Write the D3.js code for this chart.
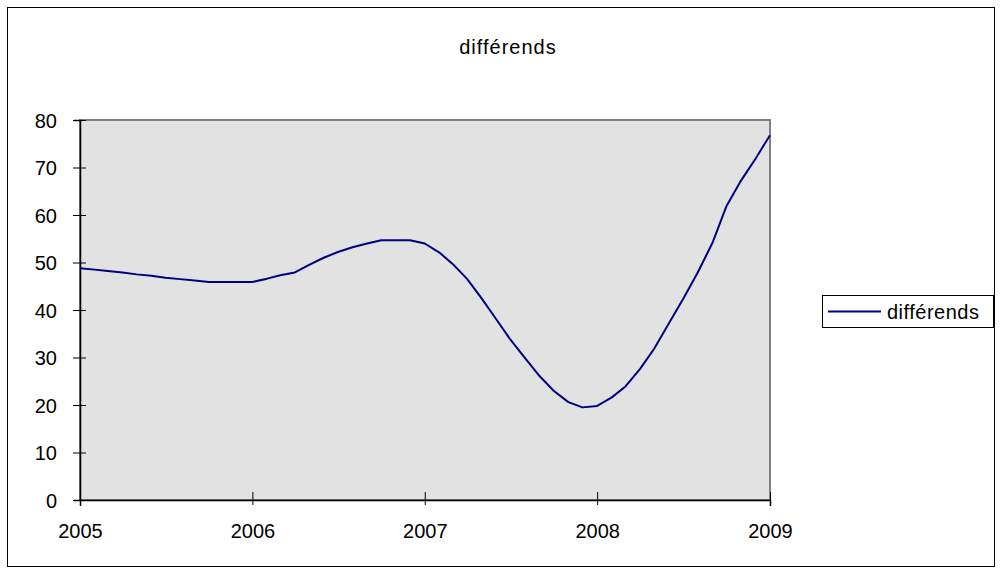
<!DOCTYPE html>
<html>
<head>
<meta charset="utf-8">
<script src="https://cdn.jsdelivr.net/npm/d3@7"></script>
<style>
  html, body { margin: 0; padding: 0; background: #ffffff; }
  svg { display: block; font-family: "Liberation Sans", Arial, sans-serif; }
</style>
</head>
<body>
<svg id="chart" width="1001" height="575"></svg>
<script>
// ---- data (monthly, Jan 2005 .. Jan 2009) ----
const seriesName = "différends";
const startYear = 2005;
const monthIndex = [0,1,2,3,4,5,6,7,8,9,10,11,12,13,14,15,16,17,18,19,20,21,22,23,24,
                    25,26,27,28,29,30,31,32,33,34,35,36,37,38,39,40,41,42,43,44,45,46,47,48];
const values = [48.8,48.5,48.2,47.9,47.5,47.2,46.8,46.5,46.2,45.9,45.9,45.9,45.9,46.6,47.3,47.9,
                49.5,51.0,52.2,53.2,54.0,54.7,54.7,54.7,54.0,52.1,49.7,46.5,42.5,38.1,33.8,29.9,
                26.1,23.0,20.6,19.5,19.8,21.6,23.9,27.6,31.9,37.2,42.3,47.9,54.1,61.9,67.3,71.8,76.8];
const yTicks = [0,10,20,30,40,50,60,70,80];
const xTickYears = [2005,2006,2007,2008,2009];

const data = monthIndex.map((m, i) => ({ date: new Date(startYear, m, 1), value: values[i] }));

const svg = d3.select("#chart");
const FS = 20;

// outer chart border
svg.append("rect").attr("x", 7.5).attr("y", 7.5).attr("width", 987).attr("height", 559)
  .attr("fill", "#fff").attr("stroke", "#000").attr("stroke-width", 1);

const plot = { left: 80, right: 770, top: 120, bottom: 500 };

const x = d3.scaleTime()
  .domain([new Date(2005, 0, 1), new Date(2009, 0, 1)])
  .range([plot.left, plot.right]);
const y = d3.scaleLinear().domain([0, 80]).range([plot.bottom, plot.top]);

// plot area
svg.append("rect")
  .attr("x", plot.left).attr("y", plot.top)
  .attr("width", plot.right - plot.left).attr("height", plot.bottom - plot.top)
  .attr("fill", "#e2e2e2").attr("stroke", "#808080").attr("stroke-width", 2);

// title
svg.append("text").attr("x", 508).attr("y", 54).attr("text-anchor", "middle")
  .attr("font-size", FS).attr("letter-spacing", 1).attr("fill", "#000").text(seriesName);

// y axis
const yAxis = d3.axisLeft(y).tickValues(yTicks).tickSize(6).tickPadding(17).tickFormat(d3.format("d"));
const gy = svg.append("g").attr("transform", `translate(${plot.left},0)`).call(yAxis);
gy.select(".domain").attr("stroke", "#000").attr("stroke-width", 1.5);
gy.selectAll(".tick line").attr("stroke", "#000").attr("x2", -7).attr("x1", 6);
gy.selectAll(".tick text").attr("font-size", FS).attr("font-family", "Liberation Sans, Arial, sans-serif")
  .attr("fill", "#000").attr("dy", "0.35em");

// x axis
const xAxis = d3.axisBottom(x)
  .tickValues(xTickYears.map(yr => new Date(yr, 0, 1)))
  .tickSize(6).tickPadding(16).tickFormat(d3.timeFormat("%Y"));
const gx = svg.append("g").attr("transform", `translate(0,${plot.bottom})`).call(xAxis);
gx.select(".domain").attr("stroke", "#000").attr("stroke-width", 1.5);
gx.selectAll(".tick line").attr("stroke", "#000").attr("y1", -8).attr("y2", 5);
gx.selectAll(".tick text").attr("font-size", FS).attr("font-family", "Liberation Sans, Arial, sans-serif")
  .attr("fill", "#000").attr("y", 38).attr("dy", 0);

// line
const line = d3.line().x(d => x(d.date)).y(d => y(d.value));
svg.append("path").datum(data)
  .attr("d", line).attr("fill", "none")
  .attr("stroke", "#000080").attr("stroke-width", 2).attr("stroke-linejoin", "round");

// legend
const lg = svg.append("g");
lg.append("rect").attr("x", 822.5).attr("y", 295.5).attr("width", 171).attr("height", 32)
  .attr("fill", "#fff").attr("stroke", "#000").attr("stroke-width", 1);
lg.append("line").attr("x1", 828).attr("x2", 881).attr("y1", 311.5).attr("y2", 311.5)
  .attr("stroke", "#000080").attr("stroke-width", 2);
lg.append("text").attr("x", 887).attr("y", 318.5).attr("font-size", FS)
  .attr("letter-spacing", 0.5).attr("fill", "#000").text(seriesName);
</script>
</body>
</html>
